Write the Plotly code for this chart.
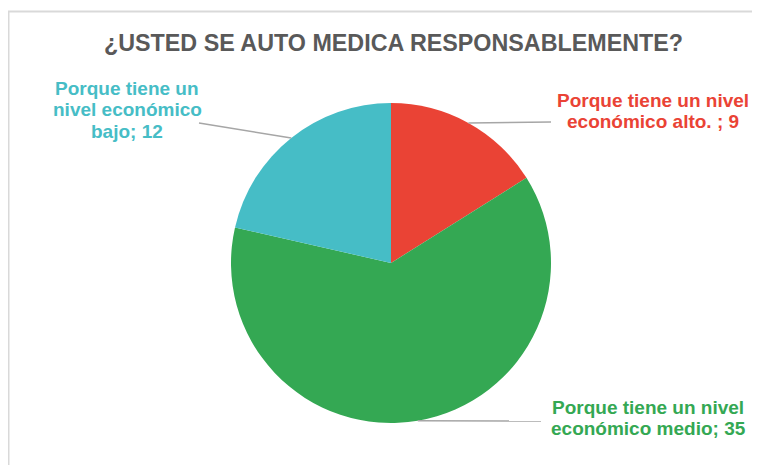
import math
import plotly.graph_objects as go

OFF = 8  # page body margin in the browser
W, H = 760 - OFF, 465 - OFF  # figure size that fits the 760x465 window

title = "¿USTED SE AUTO MEDICA RESPONSABLEMENTE?"
categories = [
    "Porque tiene un nivel económico alto. ",
    "Porque tiene un nivel económico medio",
    "Porque tiene un nivel económico bajo",
]
values = [9, 35, 12]
colors = ["#EA4335", "#34A853", "#46BDC6"]
label_lines = [
    ["Porque tiene un nivel", "económico alto. ; 9"],
    ["Porque tiene un nivel", "económico medio; 35"],
    ["Porque tiene un", "nivel económico", "bajo; 12"],
]

# layout (pixels in the page)
cx, cy, R = 391, 263, 160
label_pos = [(653, 111), (648, 418), (127, 110)]
leader_end = [(551, 122), (541, 421), (199, 123)]
line_pitch = 21.5


def px(x):
    return (x - OFF) / W


def py(y):
    return 1 - (y - OFF) / H


fig = go.Figure(go.Pie(
    labels=categories,
    values=values,
    sort=False,
    direction="clockwise",
    rotation=0,
    marker=dict(colors=colors, line=dict(width=0)),
    textinfo="none",
    hoverinfo="label+value",
    showlegend=False,
    domain=dict(x=[px(cx - R), px(cx + R)], y=[py(cy + R), py(cy - R)]),
))

shapes = [dict(type="line", xref="paper", yref="paper", x0=px(8), y0=py(11.5), x1=1.0, y1=py(11.5),
               line=dict(color="#D9D9D9", width=2)),
          dict(type="line", xref="paper", yref="paper", x0=px(8.5), y0=py(11), x1=px(8.5), y1=0,
               line=dict(color="#D9D9D9", width=2))]
annotations = []
total = sum(values)
cum = 0
for v, c, lines, lp, le in zip(values, colors, label_lines, label_pos, leader_end):
    mid = (cum + v / 2) / total * 2 * math.pi
    cum += v
    sx = cx + R * math.sin(mid)
    sy = cy - R * math.cos(mid)
    shapes.append(dict(type="line", xref="paper", yref="paper",
                       x0=px(sx), y0=py(sy), x1=px(le[0]), y1=py(le[1]),
                       line=dict(color="#A6A6A6", width=1.5)))
    n = len(lines)
    for i, t in enumerate(lines):
        yy = lp[1] + (i - (n - 1) / 2) * line_pitch
        annotations.append(dict(text="<b>" + t + "</b>", x=px(lp[0]), y=py(yy), xref="paper", yref="paper",
                                xanchor="center", yanchor="middle", showarrow=False, align="center",
                                font=dict(family="Liberation Sans, Arial", size=19, color=c)))

annotations.append(dict(text="<b>" + title + "</b>", x=px(393), y=py(43), xref="paper", yref="paper",
                        xanchor="center", yanchor="middle", showarrow=False,
                        font=dict(family="Liberation Sans, Arial", size=23.3, color="#595959")))

fig.update_layout(
    width=W, height=H,
    margin=dict(l=0, r=0, t=0, b=0),
    paper_bgcolor="white", plot_bgcolor="white",
    shapes=shapes, annotations=annotations,
)

fig.write_html("out.html", config={"displayModeBar": False})
